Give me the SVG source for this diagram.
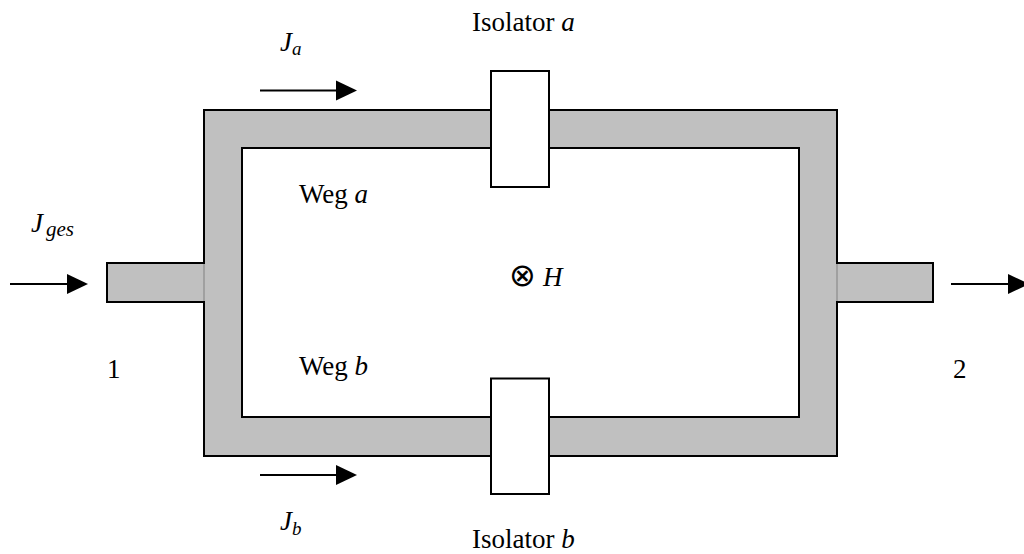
<svg xmlns="http://www.w3.org/2000/svg" width="1024" height="554" viewBox="0 0 1024 554">
<style>
.g{fill:#c0c0c0;stroke:#000;stroke-width:2}
.w{fill:#fff;stroke:#000;stroke-width:2}
.c{stroke:#000;stroke-width:2;fill:none}
.h{fill:#000;stroke:none}
text{font-family:"Liberation Serif","Times New Roman",serif;font-size:27px;fill:#000}
.i{font-style:italic}
.s{font-size:19px;font-style:italic}
</style>
<rect width="1024" height="554" fill="#fff"/>
<g id="waveguide">
<rect class="g" x="107" y="263" width="97" height="39"/>
<rect class="g" x="837" y="263" width="96" height="39"/>
<path class="g" fill-rule="evenodd" d="M204 110H837V456H204ZM242 148V417H799V148Z"/>
<rect x="203" y="264" width="2" height="37" fill="#a0a0a0"/>
<rect x="836" y="264" width="2" height="37" fill="#a0a0a0"/>
</g>
<g id="isolator-a"><rect class="w" x="491" y="71" width="58" height="116"/><text x="472" y="31">Isolator <tspan class="i">a</tspan></text></g>
<g id="isolator-b"><rect class="w" x="491" y="378.500" width="58" height="115.500"/><text x="472" y="548">Isolator <tspan class="i">b</tspan></text></g>
<g id="connectors">
<path class="c" d="M260 90.500H337"/><path class="h" d="M336 80.500L357 90.500L336 100.500Z"/>
<path class="c" d="M260 475H337"/><path class="h" d="M336 465L357 475L336 485Z"/>
<path class="c" d="M10 284H68"/><path class="h" d="M67 274L88 284L67 294Z"/>
<path class="c" d="M951 284H1009"/><path class="h" d="M1008 274L1029 284L1008 294Z"/>
</g>
<g id="labels">
<text class="i" x="280" y="51">J</text><text class="s" x="292" y="55">a</text>
<text class="i" x="280" y="530">J</text><text class="s" x="292" y="535">b</text>
<text class="i" x="31" y="232">J</text><text class="s" x="46" y="236" style="font-size:21px">ges</text>
<text x="299" y="203">Weg <tspan class="i">a</tspan></text>
<text x="299" y="375">Weg <tspan class="i">b</tspan></text>
<text x="107" y="378">1</text>
<text x="953" y="378">2</text>
<text x="509" y="286" style="font-family:'DejaVu Sans',sans-serif;font-size:32px">⊗</text>
<text class="i" x="543" y="286">H</text>
</g>
</svg>
